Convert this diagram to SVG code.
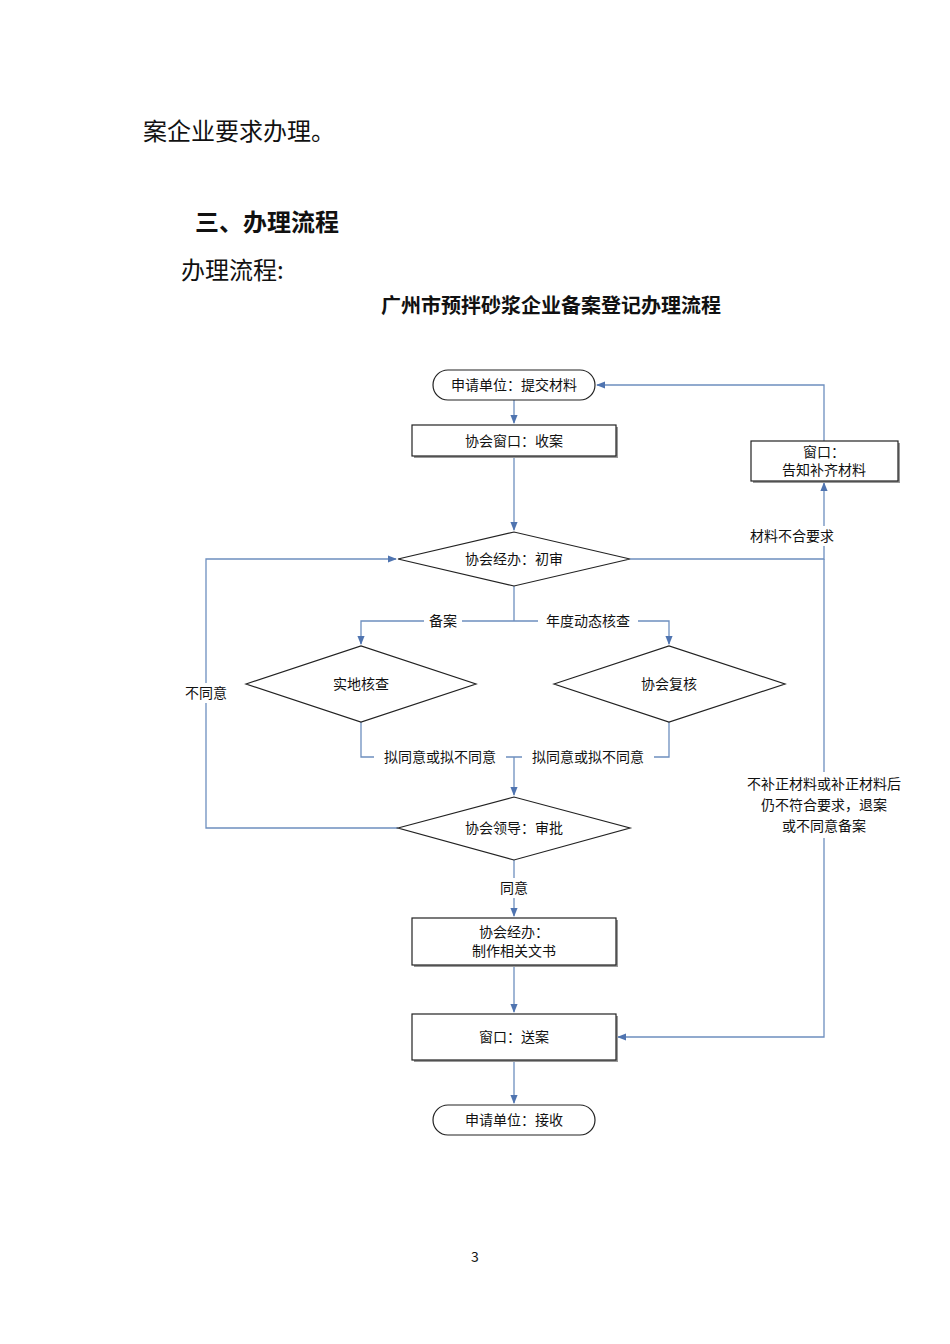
<svg xmlns="http://www.w3.org/2000/svg" width="950" height="1344" viewBox="0 0 950 1344">
<style>
text{font-family:"Noto Sans CJK SC","Liberation Sans",sans-serif;fill:#111}
.n{fill:#fff;stroke:#222;stroke-width:1.2}
.s{fill:#999}
.c{fill:none;stroke:#6d8fbf;stroke-width:1.3}
.t{font-size:14px;text-anchor:middle}
.bg{fill:#fff}
</style>
<defs><marker id="a" viewBox="0 0 10 10" refX="9" refY="5" markerWidth="7" markerHeight="7" orient="auto"><path d="M0,1L10,5L0,9z" fill="#4f74b0"/></marker></defs>
<rect width="950" height="1344" fill="#fff"/>
<text x="143" y="140" font-size="24">案企业要求办理。</text>
<text x="195" y="231" font-size="24" font-weight="bold">三、办理流程</text>
<text x="181" y="279" font-size="24">办理流程:</text>
<text x="551" y="313" font-size="20" font-weight="bold" text-anchor="middle">广州市预拌砂浆企业备案登记办理流程</text>
<g id="connectors">
<path class="c" d="M514,400V423" marker-end="url(#a)"/>
<path class="c" d="M514,456V530" marker-end="url(#a)"/>
<path class="c" d="M630,559H824V483" marker-end="url(#a)"/>
<path class="c" d="M824,441V385H597" marker-end="url(#a)"/>
<path class="c" d="M824,559V1037H618" marker-end="url(#a)"/>
<path class="c" d="M514,586V621"/>
<path class="c" d="M514,621H361V644" marker-end="url(#a)"/>
<path class="c" d="M514,621H669V644" marker-end="url(#a)"/>
<path class="c" d="M361,722V757H669V722"/>
<path class="c" d="M514,757V795" marker-end="url(#a)"/>
<path class="c" d="M398,828H206V559H396" marker-end="url(#a)"/>
<path class="c" d="M514,860V916" marker-end="url(#a)"/>
<path class="c" d="M514,965V1012" marker-end="url(#a)"/>
<path class="c" d="M514,1060V1103" marker-end="url(#a)"/>
</g>
<g id="labels">
<rect class="bg" x="740" y="526" width="104" height="20"/><text class="t" x="792" y="541">材料不合要求</text>
<rect class="bg" x="424" y="611" width="38" height="20"/><text class="t" x="443" y="626">备案</text>
<rect class="bg" x="538" y="611" width="100" height="20"/><text class="t" x="588" y="626">年度动态核查</text>
<rect class="bg" x="178" y="683" width="56" height="20"/><text class="t" x="206" y="698">不同意</text>
<rect class="bg" x="374" y="747" width="132" height="20"/><text class="t" x="440" y="762">拟同意或拟不同意</text>
<rect class="bg" x="522" y="747" width="132" height="20"/><text class="t" x="588" y="762">拟同意或拟不同意</text>
<rect class="bg" x="496" y="878" width="36" height="20"/><text class="t" x="514" y="893">同意</text>
<rect class="bg" x="732" y="772" width="184" height="66"/>
<text class="t" x="824" y="789">不补正材料或补正材料后</text>
<text class="t" x="824" y="810">仍不符合要求，退案</text>
<text class="t" x="824" y="831">或不同意备案</text>
</g>
<g id="n1"><rect class="n" x="433" y="370" width="162" height="30" rx="15"/><text class="t" x="514" y="390">申请单位：提交材料</text></g>
<g id="n2"><rect class="s" x="414" y="427" width="204" height="31"/><rect class="n" x="412" y="425" width="204" height="31"/><text class="t" x="514" y="446">协会窗口：收案</text></g>
<g id="n3"><rect class="s" x="753" y="443" width="147" height="40"/><rect class="n" x="751" y="441" width="147" height="40"/><text class="t" x="824" y="457">窗口：</text><text class="t" x="824" y="475">告知补齐材料</text></g>
<g id="n4"><polygon class="n" points="398,559 514,532 630,559 514,586"/><text class="t" x="514" y="564">协会经办：初审</text></g>
<g id="n5"><polygon class="n" points="246,684 361,646 476,684 361,722"/><text class="t" x="361" y="689">实地核查</text></g>
<g id="n6"><polygon class="n" points="554,684 669,646 785,684 669,722"/><text class="t" x="669" y="689">协会复核</text></g>
<g id="n7"><polygon class="n" points="398,828 514,797 630,828 514,860"/><text class="t" x="514" y="833">协会领导：审批</text></g>
<g id="n8"><rect class="s" x="414" y="920" width="204" height="47"/><rect class="n" x="412" y="918" width="204" height="47"/><text class="t" x="514" y="937">协会经办：</text><text class="t" x="514" y="956">制作相关文书</text></g>
<g id="n9"><rect class="s" x="414" y="1016" width="204" height="46"/><rect class="n" x="412" y="1014" width="204" height="46"/><text class="t" x="514" y="1042">窗口：送案</text></g>
<g id="n10"><rect class="n" x="433" y="1105" width="162" height="30" rx="15"/><text class="t" x="514" y="1125">申请单位：接收</text></g>
<text x="475" y="1262" font-size="14" text-anchor="middle">3</text>
</svg>
